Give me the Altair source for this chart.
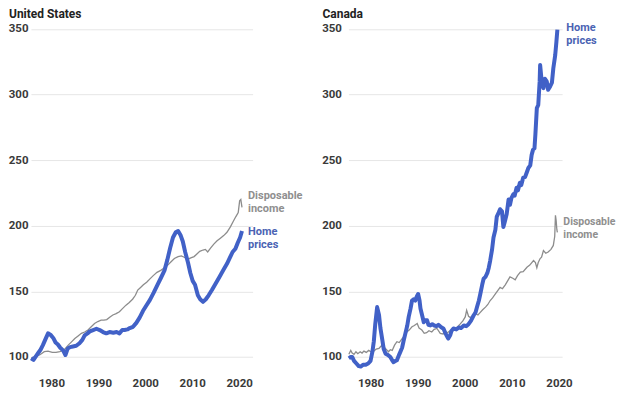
import altair as alt
import pandas as pd

# ---------------- data (index) ----------------
us_home_years = [1975.7, 1976.2, 1976.7, 1977.2, 1977.7, 1978.2, 1978.8, 1979.3, 1979.8, 1980.4,
                 1980.9, 1981.4, 1981.9, 1982.5, 1983.0, 1983.5, 1984.0, 1984.6, 1985.3, 1986.0,
                 1986.6, 1987.1, 1987.7, 1988.2, 1988.9, 1989.6, 1990.3, 1991.0, 1991.7, 1992.4,
                 1993.2, 1993.9, 1994.5, 1995.1, 1995.6, 1996.2, 1996.7, 1997.4, 1998.1, 1998.8,
                 1999.5, 2000.2, 2001.0, 2001.8, 2002.6, 2003.3, 2004.1, 2004.7, 2005.3, 2005.9,
                 2006.5, 2007.0, 2007.5, 2008.0, 2008.5, 2009.1, 2009.6, 2010.1, 2010.6, 2011.2,
                 2011.7, 2012.3, 2012.9, 2013.5, 2014.2, 2015.0, 2015.8, 2016.6, 2017.4, 2018.0,
                 2018.6, 2019.2, 2019.7, 2020.2, 2020.6]
us_home_values = [99, 97.8, 100.5, 103, 105.5, 109, 114, 118, 117, 114.5,
                  111, 109.5, 107, 105, 101.5, 106.5, 107.5, 108, 108.5, 110.5,
                  113, 116.5, 118, 119.5, 120.5, 121.5, 120.5, 119, 118, 119,
                  118.5, 119, 118, 120.5, 120.5, 121, 122, 123, 126, 130,
                  135, 139, 143.5, 149, 155, 160, 166, 174, 183, 191,
                  195, 196, 193, 188, 180, 172, 164, 158, 155, 147,
                  144, 142, 144, 147, 151, 156, 161, 166, 171, 175.5,
                  180, 182.5, 187, 191, 196]

us_inc_years = [1975.7, 1976.5, 1977.5, 1978.5, 1979.3, 1980.2, 1981.0, 1981.8, 1982.5, 1983.0,
                1983.6, 1984.3, 1985.0, 1985.7, 1986.4, 1987.1, 1987.8, 1988.5, 1989.2, 1989.9,
                1990.6, 1991.2, 1991.8, 1992.5, 1993.1, 1993.8, 1994.5, 1995.2, 1995.9, 1996.6,
                1997.3, 1997.9, 1998.4, 1999.0, 1999.6, 2000.3, 2001.0, 2001.7, 2002.5, 2003.3,
                2004.1, 2004.8, 2005.5, 2006.2, 2007.0, 2007.7, 2008.3, 2009.1, 2009.7, 2010.4,
                2011.0, 2011.6, 2012.3, 2012.8, 2013.3, 2013.9, 2014.6, 2015.3, 2016.0, 2016.7,
                2017.4, 2018.1, 2018.7, 2019.3, 2019.8, 2020.1, 2020.35, 2020.6]
us_inc_values = [99, 100.5, 101.5, 104, 104.5, 103.5, 103.5, 104, 105, 106.5,
                 109, 111.5, 114, 116, 118, 119, 120.5, 123, 125.5, 127,
                 128, 128, 128.5, 130.5, 132, 133, 134.5, 137, 139.5, 141.5,
                 144, 147, 151, 153, 155, 157, 159.5, 162, 164.5, 166,
                 168, 170, 172.5, 175, 176.5, 177, 176, 174.5, 175.5, 176.5,
                 178.5, 180.5, 181.5, 182, 180, 183, 186, 188.5, 190.5, 192.5,
                 195, 199, 203, 207, 210, 219, 220, 214]

ca_home_years = [1975.4, 1975.8, 1976.1, 1976.5, 1977.0, 1977.5, 1977.9, 1978.4, 1978.9, 1979.5,
                 1980.0, 1980.4, 1980.7, 1981.0, 1981.4, 1981.8, 1982.1, 1982.5, 1982.8, 1983.2,
                 1983.7, 1984.2, 1984.6, 1984.9, 1985.3, 1985.6, 1986.1, 1986.7, 1987.0, 1987.4,
                 1987.8, 1988.1, 1988.5, 1988.8, 1989.2, 1989.5, 1989.8, 1990.1, 1990.4, 1990.6,
                 1991.0, 1991.3, 1991.6, 1992.0, 1992.3, 1992.7, 1993.1, 1993.5, 1994.0, 1994.4,
                 1994.9, 1995.5, 1995.9, 1996.2, 1996.5, 1996.9, 1997.2, 1997.6, 1998.2, 1998.8,
                 1999.2, 1999.8, 2000.3, 2000.8, 2001.3, 2001.9, 2002.3, 2002.6, 2003.0, 2003.3,
                 2003.7, 2004.0, 2004.4, 2004.8, 2005.1, 2005.4, 2005.8, 2006.1, 2006.5, 2006.8,
                 2007.2, 2007.5, 2007.9, 2008.2, 2008.5, 2008.9, 2009.3, 2009.6, 2009.9, 2010.3,
                 2010.6, 2011.0, 2011.3, 2011.7, 2012.0, 2012.4, 2012.8, 2013.1, 2013.5, 2013.9,
                 2014.2, 2014.5, 2014.8, 2015.0, 2015.3, 2015.6, 2015.9, 2016.0, 2016.2, 2016.4,
                 2016.7, 2017.0, 2017.4, 2017.7, 2018.1, 2018.5, 2018.8, 2019.2, 2019.45, 2019.66]
ca_home_values = [99, 100, 100, 97, 95, 93, 92.7, 94, 94, 95,
                  97, 104, 112, 125, 138, 132, 122, 113, 106, 102.5,
                  101.5, 100, 97.5, 96, 97, 97.5, 102, 107, 112, 118,
                  124, 130.5, 137, 143, 144, 143, 146, 148, 143, 137,
                  131, 126.5, 128, 128, 124.5, 124, 125, 124, 123.5, 124.5,
                  123, 121.5, 118, 116, 114, 116.5, 120, 121.7, 121, 122.5,
                  122, 124, 123.5, 125, 127.5, 131.8, 134, 138, 143, 148,
                  155, 159.6, 161, 164, 168, 173.5, 182, 191, 197, 207,
                  210, 212.6, 211, 199, 203, 209, 220, 216, 221, 224,
                  223, 229, 227, 232.8, 231, 236.6, 237, 240, 244, 246,
                  254, 258, 259, 270, 289.6, 292, 310, 322.5, 315, 308,
                  304.8, 312, 310, 303.6, 306, 309, 320, 330, 340, 349.5]

ca_inc_years = [1975.4, 1975.8, 1976.1, 1976.5, 1976.9, 1977.3, 1977.8, 1978.2, 1978.6, 1979.1,
                1979.6, 1980.1, 1980.7, 1981.2, 1981.8, 1982.3, 1982.8, 1983.3, 1983.8, 1984.2,
                1984.6, 1985.1, 1985.6, 1986.1, 1986.7, 1987.2, 1987.7, 1988.2, 1988.8, 1989.3,
                1989.9, 1990.3, 1990.9, 1991.4, 1991.9, 1992.4, 1993.0, 1993.5, 1994.1, 1994.8,
                1995.4, 1995.9, 1996.3, 1996.9, 1997.6, 1998.2, 1999.0, 1999.6, 2000.1, 2000.4,
                2000.8, 2001.2, 2001.7, 2002.3, 2002.8, 2003.3, 2003.8, 2004.4, 2004.9, 2005.4,
                2005.9, 2006.5, 2007.0, 2007.5, 2008.0, 2008.6, 2009.1, 2009.6, 2010.2, 2010.7,
                2011.2, 2011.8, 2012.4, 2013.2, 2013.8, 2014.6, 2015.0, 2015.3, 2015.6, 2016.0,
                2016.3, 2016.7, 2017.2, 2017.7, 2018.3, 2018.8, 2019.1, 2019.25, 2019.4, 2019.55,
                2019.66]
ca_inc_values = [102, 105, 103, 102, 104, 102.5, 104, 103, 104.5, 103.5,
                 105, 104, 104.5, 106, 106.6, 108.5, 107.7, 106, 104, 105.5,
                 105, 109, 111.6, 111, 114, 116, 119, 120.5, 123, 124,
                 125.5, 122, 120.5, 118, 118.5, 120, 119, 121, 121.7, 118,
                 117.5, 119, 118.5, 120, 120, 122, 125, 127.5, 130.5, 135.6,
                 131, 130, 131.5, 133, 132, 134, 136, 138, 140, 143,
                 145, 148, 150.5, 153, 152, 155, 158, 161, 160, 158.8,
                 162, 164.6, 165, 168.4, 170, 173.5, 172, 168, 172, 175,
                 176, 181, 179, 180, 182, 185, 192, 208, 204, 197,
                 195]

x_ticks = [1980, 1990, 2000, 2010, 2020]
y_ticks = [100, 150, 200, 250, 300, 350]

BLUE = "#4161c7"
BLUE_TXT = "#4a63b3"
GRAY = "#8c8c8c"
GRAY_TXT = "#8f8f8f"
FONT = "Roboto"


def panel(title, hy, hv, iy, iv, xdom, width, label_pad, title_x,
          home_off, inc_off, inc_size):
    home = pd.DataFrame({"year": hy, "value": hv})
    inc = pd.DataFrame({"year": iy, "value": iv})
    x = alt.X("year:Q",
              scale=alt.Scale(domain=xdom, nice=False, zero=False),
              axis=alt.Axis(values=x_ticks, format="d", grid=False, domain=False,
                            ticks=False, title=None, labelPadding=5,
                            labelFont=FONT, labelFontSize=11.5, labelFontWeight="bold",
                            labelColor="#3a3a3a", labelFlush=False))
    y = alt.Y("value:Q",
              scale=alt.Scale(domain=[88, 352], nice=False, zero=False),
              axis=alt.Axis(values=y_ticks, grid=True, gridColor="#e6e6e6", domain=False,
                            ticks=False, title=None, labelPadding=label_pad,
                            labelFont=FONT, labelFontSize=11.5, labelFontWeight="bold",
                            labelColor="#3a3a3a"))
    inc_line = alt.Chart(inc).mark_line(color=GRAY, strokeWidth=1.3).encode(x=x, y=y)
    home_line = alt.Chart(home).mark_line(color=BLUE, strokeWidth=4,
                                          strokeJoin="round").encode(x=x, y=y)
    home_lab = alt.Chart(home.tail(1).assign(t="Home\nprices")).mark_text(
        align="left", baseline="top", dx=home_off[0], dy=home_off[1], font=FONT,
        fontSize=11, fontWeight="bold", lineHeight=13, lineBreak="\n", color=BLUE_TXT
    ).encode(x="year:Q", y="value:Q", text="t:N")
    inc_lab = alt.Chart(inc.tail(1).assign(t="Disposable\nincome")).mark_text(
        align="left", baseline="top", dx=inc_off[0], dy=inc_off[1], font=FONT,
        fontSize=inc_size, fontWeight="bold", lineHeight=13, lineBreak="\n", color=GRAY_TXT
    ).encode(x="year:Q", y="value:Q", text="t:N")
    title_mark = alt.Chart(pd.DataFrame({"t": [title]})).mark_text(
        align="left", baseline="top", font=FONT, fontSize=12, fontWeight="bold",
        color="#222222"
    ).encode(x=alt.value(title_x), y=alt.value(-17), text="t:N")
    return alt.layer(inc_line, home_line, home_lab, inc_lab, title_mark).properties(
        width=width, height=347)


left = panel("United States", us_home_years, us_home_values, us_inc_years, us_inc_values,
             [1975.66, 2022.86], 222, 3, -22, (6, -5), (6, -17), 11)
right = panel("Canada", ca_home_years, ca_home_values, ca_inc_years, ca_inc_values,
              [1975.31, 2020.66], 214, 7, -26, (9, -8), (6, -15), 10.5)

chart = alt.hconcat(left, right, spacing=18).configure(padding=0).configure_view(stroke=None)

chart.save("out.html", embed_options={"renderer": "svg", "actions": False})
